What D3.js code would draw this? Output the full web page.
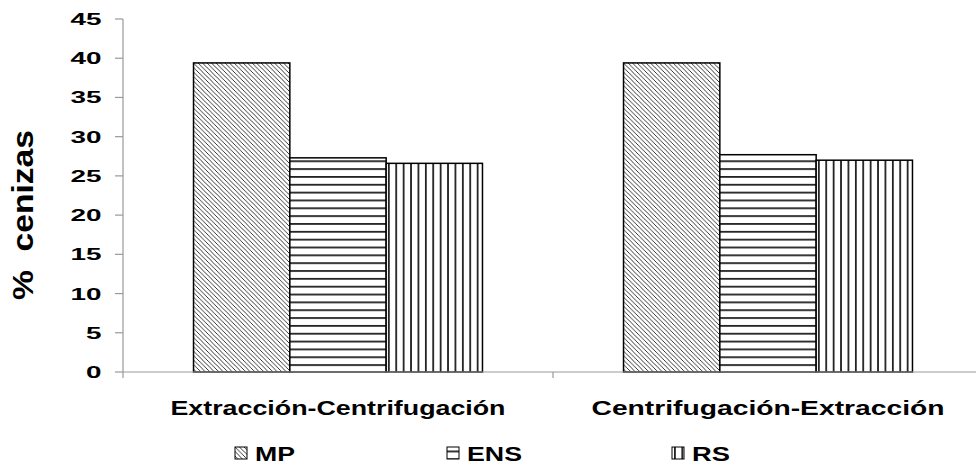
<!DOCTYPE html>
<html>
<head>
<meta charset="utf-8">
<script src="https://cdn.jsdelivr.net/npm/d3@7"></script>
<style>
  body { margin: 0; background: #fff; }
  text { font-family: "Liberation Sans", Arial, sans-serif; font-weight: bold; fill: #000; }
</style>
</head>
<body>
<svg id="chart" width="976" height="465"></svg>
<script>
// values
var categories = ["Extracción-Centrifugación", "Centrifugación-Extracción"]
var series = ["MP", "ENS", "RS"]
var mpValues = [39.4, 39.4]
var ensValues = [27.3, 27.7]
var rsValues = [26.6, 27.0]
var yTicks = [0, 5, 10, 15, 20, 25, 30, 35, 40, 45]

var rows = categories.map(function(c, i) {
  return {cat: c, vals: [mpValues[i], ensValues[i], rsValues[i]]}
})

var svg = d3.select('#chart')
var mLeft = 123, mRight = 983, mTop = 19, mBottom = 372

var y = d3.scaleLinear().domain([0, 45]).range([mBottom, mTop])
var x0 = d3.scaleBand().domain(categories).range([mLeft, mRight])
  .paddingInner(0.328).paddingOuter(0.164)
var x1 = d3.scaleBand().domain(series).range([0, x0.bandwidth()])

// hatch patterns
var defs = svg.append('defs')
var pMP = defs.append('pattern').attr('id', 'p-MP').attr('patternUnits', 'userSpaceOnUse')
  .attr('width', 4.5).attr('height', 4.5)
pMP.append('rect').attr('width', 4.5).attr('height', 4.5).attr('fill', '#fff')
pMP.append('path').attr('d', 'M-1,-1 L5.5,5.5 M-1,3.5 L1,5.5 M3.5,-1 L5.5,1')
  .attr('stroke', '#222').attr('stroke-width', 0.9)

var pENS = defs.append('pattern').attr('id', 'p-ENS').attr('patternUnits', 'userSpaceOnUse')
  .attr('width', 10).attr('height', 7.84).attr('y', mBottom)
pENS.append('rect').attr('width', 10).attr('height', 7.84).attr('fill', '#fff')
pENS.append('rect').attr('y', 0).attr('width', 10).attr('height', 1.8).attr('fill', '#222')

var pRS = defs.append('pattern').attr('id', 'p-RS').attr('patternUnits', 'userSpaceOnUse')
  .attr('width', 7.4).attr('height', 10).attr('x', 816)
pRS.append('rect').attr('width', 7.4).attr('height', 10).attr('fill', '#fff')
pRS.append('rect').attr('x', 0).attr('width', 1.8).attr('height', 10).attr('fill', '#222')

// y axis
svg.append('line').attr('x1', mLeft).attr('x2', mLeft).attr('y1', mTop).attr('y2', mBottom)
  .attr('stroke', '#999').attr('stroke-width', 1.2)
svg.selectAll('.ytick').data(yTicks).enter().append('line')
  .attr('x1', mLeft - 8).attr('x2', mLeft).attr('y1', function(d) { return y(d) }).attr('y2', function(d) { return y(d) })
  .attr('stroke', '#999').attr('stroke-width', 1.2)
svg.selectAll('.ylab').data(yTicks).enter().append('text')
  .attr('x', 101.5).attr('y', function(d) { return y(d) + 6 })
  .attr('text-anchor', 'end').attr('font-size', 17)
  .attr('textLength', function(d) { return String(d).length * 15.5 })
  .attr('lengthAdjust', 'spacingAndGlyphs')
  .text(function(d) { return d })

svg.append('text').attr('transform', 'translate(33,215) rotate(-90)')
  .attr('text-anchor', 'middle').attr('font-size', 30).attr('xml:space', 'preserve')
  .attr('textLength', 170).attr('lengthAdjust', 'spacingAndGlyphs')
  .text('%  cenizas')

// bars
var groups = svg.selectAll('.grp').data(rows).enter().append('g')
  .attr('transform', function(d) { return 'translate(' + x0(d.cat) + ',0)' })
groups.selectAll('rect').data(function(d) {
  return d.vals.map(function(v, i) { return {s: series[i], v: v} })
}).enter().append('rect')
  .attr('x', function(d) { return x1(d.s) })
  .attr('y', function(d) { return y(d.v) })
  .attr('width', x1.bandwidth())
  .attr('height', function(d) { return mBottom - y(d.v) })
  .attr('fill', function(d) { return 'url(#p-' + d.s + ')' })
  .attr('stroke', '#000').attr('stroke-width', 1.5)

// x axis
svg.append('line').attr('x1', mLeft).attr('x2', mRight).attr('y1', mBottom).attr('y2', mBottom)
  .attr('stroke', '#999').attr('stroke-width', 1.2)
var bounds = [mLeft, mLeft + x0.step(), mRight]
svg.selectAll('.xtick').data(bounds).enter().append('line')
  .attr('x1', function(d) { return d }).attr('x2', function(d) { return d })
  .attr('y1', mBottom).attr('y2', mBottom + 6)
  .attr('stroke', '#999').attr('stroke-width', 1.2)
var catWidths = [335, 353]
svg.selectAll('.xlab').data(categories).enter().append('text')
  .attr('x', function(d) { return x0(d) + x0.bandwidth() / 2 }).attr('y', 415)
  .attr('text-anchor', 'middle').attr('font-size', 20.5)
  .attr('textLength', function(d, i) { return catWidths[i] })
  .attr('lengthAdjust', 'spacingAndGlyphs')
  .text(function(d) { return d })

// legend
var legX = [235, 447, 672]
var legW = [40, 55, 38]
var leg = svg.selectAll('.leg').data(series).enter().append('g')
  .attr('transform', function(d, i) { return 'translate(' + legX[i] + ',447)' })
leg.append('rect').attr('width', 12).attr('height', 12)
  .attr('fill', function(d) { return 'url(#p-' + d + ')' })
  .attr('stroke', '#000').attr('stroke-width', 1)
leg.append('text').attr('x', 20).attr('y', 14).attr('font-size', 19.5)
  .attr('textLength', function(d, i) { return legW[i] })
  .attr('lengthAdjust', 'spacingAndGlyphs')
  .text(function(d) { return d })
</script>
</body>
</html>
